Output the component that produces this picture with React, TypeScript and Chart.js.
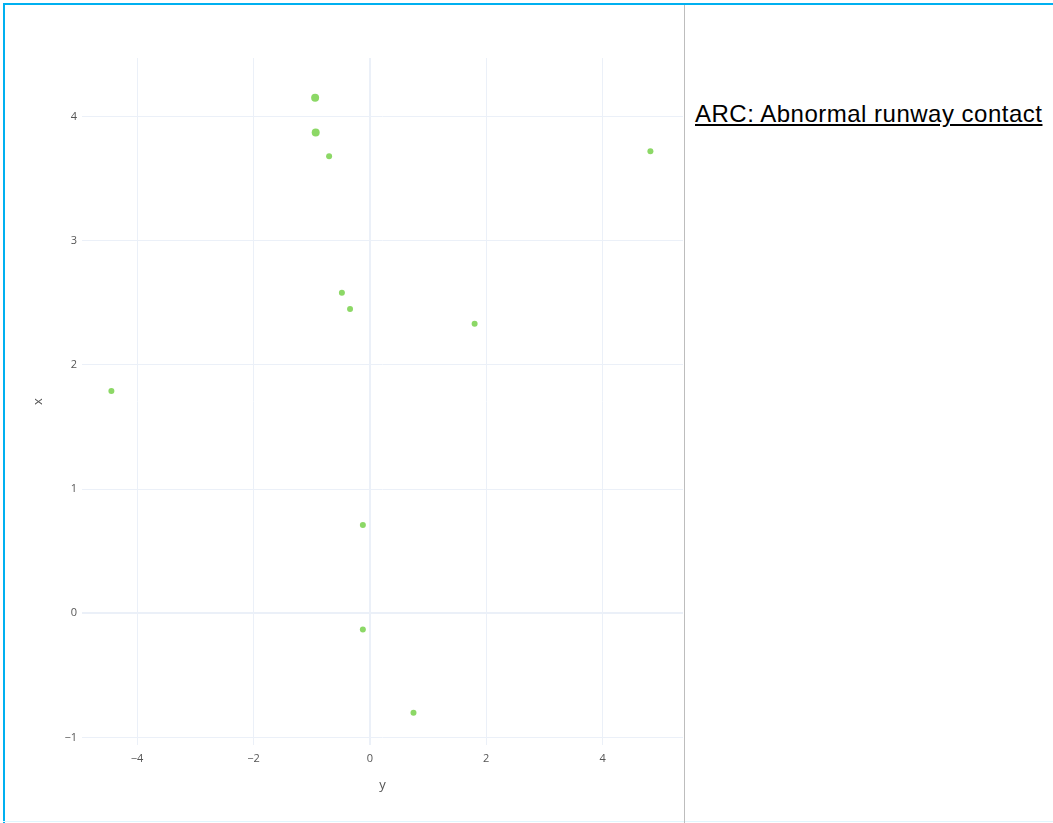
import React, { useEffect, useRef } from "react";
import { Chart, registerables } from "chart.js";

Chart.register(...registerables);

// Data (horizontal axis "y", vertical axis "x")
const POINT_Y: number[] = [-0.94, -0.93, -0.70, 4.82, -0.48, -0.34, 1.80, -4.44, -0.12, -0.12, 0.75];
const POINT_X: number[] = [4.15, 3.87, 3.68, 3.72, 2.58, 2.45, 2.33, 1.79, 0.71, -0.13, -0.80];
const POINT_SIZES: number[] = [4, 4, 3, 3, 3, 3, 3, 3, 3, 3, 3];
const H_TICKS: number[] = [-4, -2, 0, 2, 4];
const V_TICKS: number[] = [-1, 0, 1, 2, 3, 4];
const H_RANGE: number[] = [-4.945, 5.38];
const V_RANGE: number[] = [-1.06, 4.47];
const TITLE_TEXT = "ARC: Abnormal runway contact";

const fmt = (v: number) => (v < 0 ? "\u2212" + Math.abs(v) : String(v));

export default function App() {
  const ref = useRef<HTMLCanvasElement | null>(null);

  useEffect(() => {
    if (!ref.current) return;
    const data = POINT_Y.map((y, i) => ({ x: y, y: POINT_X[i] }));
    const gridColor = "#ebf0f8";
    const chart = new Chart(ref.current, {
      type: "scatter",
      data: {
        datasets: [
          {
            data,
            backgroundColor: "rgb(140, 216, 102)",
            borderColor: "rgb(140, 216, 102)",
            pointRadius: POINT_SIZES,
            pointHoverRadius: POINT_SIZES,
            borderWidth: 0,
          },
        ],
      },
      options: {
        animation: false,
        responsive: false,
        maintainAspectRatio: false,
        layout: { padding: { top: 58, right: 0, bottom: 0, left: 2 } },
        plugins: { legend: { display: false }, tooltip: { enabled: false } },
        scales: {
          x: {
            type: "linear",
            min: H_RANGE[0],
            max: H_RANGE[1],
            afterBuildTicks: (s: any) => {
              s.ticks = H_TICKS.map((v) => ({ value: v }));
            },
            afterFit: (s: any) => {
              s.height = 78;
            },
            grid: {
              color: gridColor,
              lineWidth: (c: any) => (c.tick && c.tick.value === 0 ? 2 : 1),
              drawTicks: false,
            },
            border: { display: false },
            ticks: {
              padding: 7,
              color: "#555",
              font: { family: "'Open Sans', sans-serif", size: 11 },
              callback: (v: any) => fmt(Number(v)),
              maxRotation: 0,
            },
            title: {
              display: true,
              text: "y",
              color: "#555",
              font: { family: "'Open Sans', sans-serif", size: 13 },
              padding: { top: 10, bottom: 30 },
            },
          },
          y: {
            type: "linear",
            min: V_RANGE[0],
            max: V_RANGE[1],
            afterBuildTicks: (s: any) => {
              s.ticks = V_TICKS.map((v) => ({ value: v }));
            },
            afterFit: (s: any) => {
              s.width = 80;
            },
            grid: {
              color: gridColor,
              lineWidth: (c: any) => (c.tick && c.tick.value === 0 ? 2 : 1),
              drawTicks: false,
            },
            border: { display: false },
            ticks: {
              padding: 5,
              color: "#555",
              font: { family: "'Open Sans', sans-serif", size: 11 },
              callback: (v: any) => fmt(Number(v)),
            },
            title: {
              display: true,
              text: "x",
              color: "#555",
              font: { family: "'Open Sans', sans-serif", size: 13 },
              padding: { top: 28, bottom: 0 },
            },
          },
        },
      },
    });
    return () => chart.destroy();
  }, []);

  return (
    <div
      style={{
        position: "fixed",
        left: 0,
        top: 0,
        width: 1053,
        height: 823,
        background: "#fff",
        overflow: "hidden",
      }}
    >
      <canvas
        ref={ref}
        width={687}
        height={823}
        style={{ position: "absolute", left: 0, top: 0, width: 687, height: 823 }}
      />
      {/* slide frame */}
      <div style={{ position: "absolute", left: 685, top: 5, width: 3, height: 818, background: "#fff" }} />
      <div style={{ position: "absolute", left: 3, top: 3, width: 1050, height: 2, background: "#00b0f0" }} />
      <div style={{ position: "absolute", left: 3, top: 3, width: 2, height: 820, background: "#00b0f0" }} />
      <div style={{ position: "absolute", left: 3, top: 821, width: 1050, height: 1, background: "#e0f6fd" }} />
      <div style={{ position: "absolute", left: 684, top: 5, width: 1, height: 818, background: "#bdbdbd" }} />
      <div
        style={{
          position: "absolute",
          left: 695,
          top: 100,
          fontFamily: "'Liberation Sans', Arial, sans-serif",
          fontSize: 24,
          letterSpacing: 0.5,
          color: "#000",
          textDecoration: "underline",
          whiteSpace: "nowrap",
        }}
      >
        {TITLE_TEXT}
      </div>
    </div>
  );
}
